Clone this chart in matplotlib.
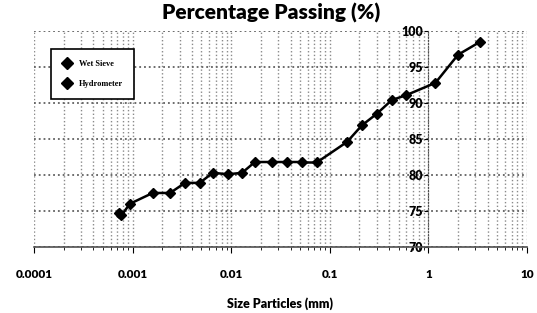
import numpy as np
import matplotlib
matplotlib.use("Agg")
import matplotlib.pyplot as plt
from matplotlib.ticker import FixedLocator, FixedFormatter, LogLocator, NullFormatter

# hydrometer part (fine fraction)
hydro_size = [0.00072, 0.00077, 0.00094, 0.0016, 0.0024, 0.0034, 0.0048,
              0.0065, 0.0093, 0.0129, 0.0174, 0.0259, 0.0368, 0.0523]
hydro_pass = [74.7, 74.4, 76.0, 77.5, 77.5, 78.9, 78.9,
              80.3, 80.1, 80.3, 81.8, 81.8, 81.8, 81.8]

# wet sieve part
sieve_size = [0.075, 0.15, 0.212, 0.3, 0.425, 0.6, 1.18, 2.0, 3.35]
sieve_pass = [81.8, 84.6, 86.9, 88.5, 90.4, 91.1, 92.8, 96.7, 98.5]

xticks = [0.0001, 0.001, 0.01, 0.1, 1, 10]
xticklabels = ['0.0001', '0.001', '0.01', '0.1', '1', '10']
yticks = [70, 75, 80, 85, 90, 95, 100]

fig = plt.figure(figsize=(5.37, 3.13), dpi=100)
ax = fig.add_axes([0.0633, 0.211, 0.918, 0.690])

ax.grid(True, which='major', axis='y', color='#606060', linestyle=':', linewidth=1.3)
ax.grid(True, which='both', axis='x', color='#8a8a8a', linestyle=':', linewidth=1.0)
ax.set_axisbelow(True)

# joining segment between the two test series
ax.plot([hydro_size[-1], sieve_size[0]], [hydro_pass[-1], sieve_pass[0]],
        color='black', linewidth=1.8, zorder=2)
ax.plot(sieve_size, sieve_pass, color='black', marker='D', markersize=5.5,
        linewidth=1.8, label='Wet Sieve', zorder=3)
ax.plot(hydro_size, hydro_pass, color='black', marker='D', markersize=5.5,
        linewidth=1.8, label='Hydrometer', zorder=3)

ax.set_xscale('log')
ax.set_xlim(0.0001, 10)
ax.set_ylim(70, 100)

ax.xaxis.set_major_locator(FixedLocator(xticks))
ax.xaxis.set_major_formatter(FixedFormatter(xticklabels))
ax.xaxis.set_minor_locator(LogLocator(base=10, subs=np.arange(2, 10)))
ax.xaxis.set_minor_formatter(NullFormatter())
ax.set_yticks(yticks)

for s in ['top', 'right']:
    ax.spines[s].set_visible(False)
ax.spines['left'].set_position(('data', 1))
ax.spines['left'].set_linestyle(':')
ax.spines['left'].set_color('#505050')
ax.spines['bottom'].set_color('#505050')
ax.spines['bottom'].set_linewidth(1.2)

ax.tick_params(axis='x', which='major', length=4, pad=12, labelsize=8.5)
ax.tick_params(axis='x', which='minor', length=2)
ax.tick_params(axis='y', length=3, pad=1, labelsize=9)
for lab in ax.get_xticklabels() + ax.get_yticklabels():
    lab.set_fontweight('heavy')
    lab.set_family('Lato')

ax.set_xlabel('Size Particles (mm)', fontsize=9, fontweight='heavy', family='Lato', labelpad=12)
fig.suptitle('Percentage Passing (%)', fontsize=15, fontweight='heavy', family='Lato',
             x=0.505, y=0.99)

leg = ax.legend(loc='upper left', bbox_to_anchor=(0.026, 0.935),
                frameon=True, fancybox=False, edgecolor='black', framealpha=1,
                borderpad=1.3, labelspacing=1.4, handlelength=1.2, handletextpad=0.9,
                prop={'family': 'Liberation Serif', 'size': 6, 'weight': 'bold'})
leg.get_frame().set_linewidth(1.2)
for h in leg.legend_handles:
    h.set_linestyle('None')
    h.set_markersize(6)

fig.savefig('out.png', dpi=100)
